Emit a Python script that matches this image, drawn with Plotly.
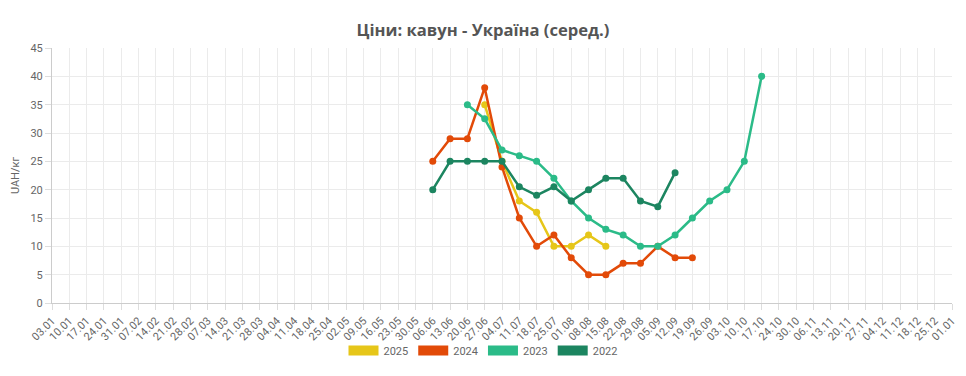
import plotly.graph_objects as go

weeks = ["03.01", "10.01", "17.01", "24.01", "31.01", "07.02", "14.02", "21.02", "28.02",
         "07.03", "14.03", "21.03", "28.03", "04.04", "11.04", "18.04", "25.04", "02.05",
         "09.05", "16.05", "23.05", "30.05", "06.06", "13.06", "20.06", "27.06", "04.07",
         "11.07", "18.07", "25.07", "01.08", "08.08", "15.08", "22.08", "29.08", "05.09",
         "12.09", "19.09", "26.09", "03.10", "10.10", "17.10", "24.10", "30.10", "06.11",
         "13.11", "20.11", "27.11", "04.12", "11.12", "18.12", "25.12", "01.01"]

x_2025 = ["27.06", "04.07", "11.07", "18.07", "25.07", "01.08", "08.08", "15.08"]
y_2025 = [35, 25, 18, 16, 10, 10, 12, 10]

x_2024 = ["06.06", "13.06", "20.06", "27.06", "04.07", "11.07", "18.07", "25.07", "01.08",
          "08.08", "15.08", "22.08", "29.08", "05.09", "12.09", "19.09"]
y_2024 = [25, 29, 29, 38, 24, 15, 10, 12, 8, 5, 5, 7, 7, 10, 8, 8]

x_2023 = ["20.06", "27.06", "04.07", "11.07", "18.07", "25.07", "01.08", "08.08", "15.08",
          "22.08", "29.08", "05.09", "12.09", "19.09", "26.09", "03.10", "10.10", "17.10"]
y_2023 = [35, 32.5, 27, 26, 25, 22, 18, 15, 13, 12, 10, 10, 12, 15, 18, 20, 25, 40]

x_2022 = ["06.06", "13.06", "20.06", "27.06", "04.07", "11.07", "18.07", "25.07", "01.08",
          "08.08", "15.08", "22.08", "29.08", "05.09", "12.09"]
y_2022 = [20, 25, 25, 25, 25, 20.5, 19, 20.5, 18, 20, 22, 22, 18, 17, 23]

series = [
    ("2025", x_2025, y_2025, "#E6C619"),
    ("2024", x_2024, y_2024, "#E24A08"),
    ("2023", x_2023, y_2023, "#2BBB88"),
    ("2022", x_2022, y_2022, "#1C8560"),
]

fig = go.Figure()
# ensure category order
fig.add_trace(go.Scatter(x=weeks, y=[None] * len(weeks), mode="lines", showlegend=False,
                         hoverinfo="skip"))
for name, xs, ys, col in series:
    fig.add_trace(go.Scatter(x=xs, y=ys, mode="lines+markers", name=name, legendgroup=name,
                             showlegend=False,
                             line=dict(color=col, width=2.5),
                             marker=dict(color=col, size=7)))
for name, xs, ys, col in series:
    fig.add_trace(go.Scatter(x=[None], y=[None], mode="lines", name=name, legendgroup=name,
                             showlegend=True, line=dict(color=col, width=13)))

fig.update_layout(
    width=966, height=376,
    margin=dict(l=52, r=14, t=48, b=73),
    paper_bgcolor="white", plot_bgcolor="white",
    font=dict(family="Roboto, Arial, sans-serif", size=11, color="#666"),
    title=dict(text="<b>Ціни: кавун - Україна (серед.)</b>", x=0.5, xanchor="center",
               y=0.92, yanchor="middle", yref="container",
               font=dict(family="Open Sans, sans-serif", size=16.6, color="#555")),
    showlegend=True,
    legend=dict(orientation="h", x=0.5, xanchor="center", xref="container",
                y=1 - 336 / 376, yanchor="top", yref="container",
                bgcolor="rgba(0,0,0,0)",
                itemwidth=30, font=dict(size=11, color="#666"), traceorder="normal",
                itemclick=False),
    xaxis=dict(type="category", categoryorder="array", categoryarray=weeks,
               range=[0, len(weeks) - 1], tickangle=-45, showgrid=True,
               gridcolor="#ebebeb", showline=True, linecolor="#cccccc",
               ticks="outside", ticklen=6, tickcolor="#dddddd", automargin=False,
               tickfont=dict(size=11, color="#666"), fixedrange=True),
    yaxis=dict(range=[0, 45], dtick=5, showgrid=True, gridcolor="#ebebeb",
               showline=True, linecolor="#cccccc", ticks="outside", ticklen=6,
               tickcolor="#dddddd", zeroline=False, automargin=False,
               title=dict(text="UAH/кг", font=dict(size=11, color="#666"), standoff=8),
               tickfont=dict(size=11, color="#666"), fixedrange=True),
)

fig.write_html("out.html", config={"displayModeBar": False},
               post_script="document.body.style.margin='0';document.body.style.padding='0';")
